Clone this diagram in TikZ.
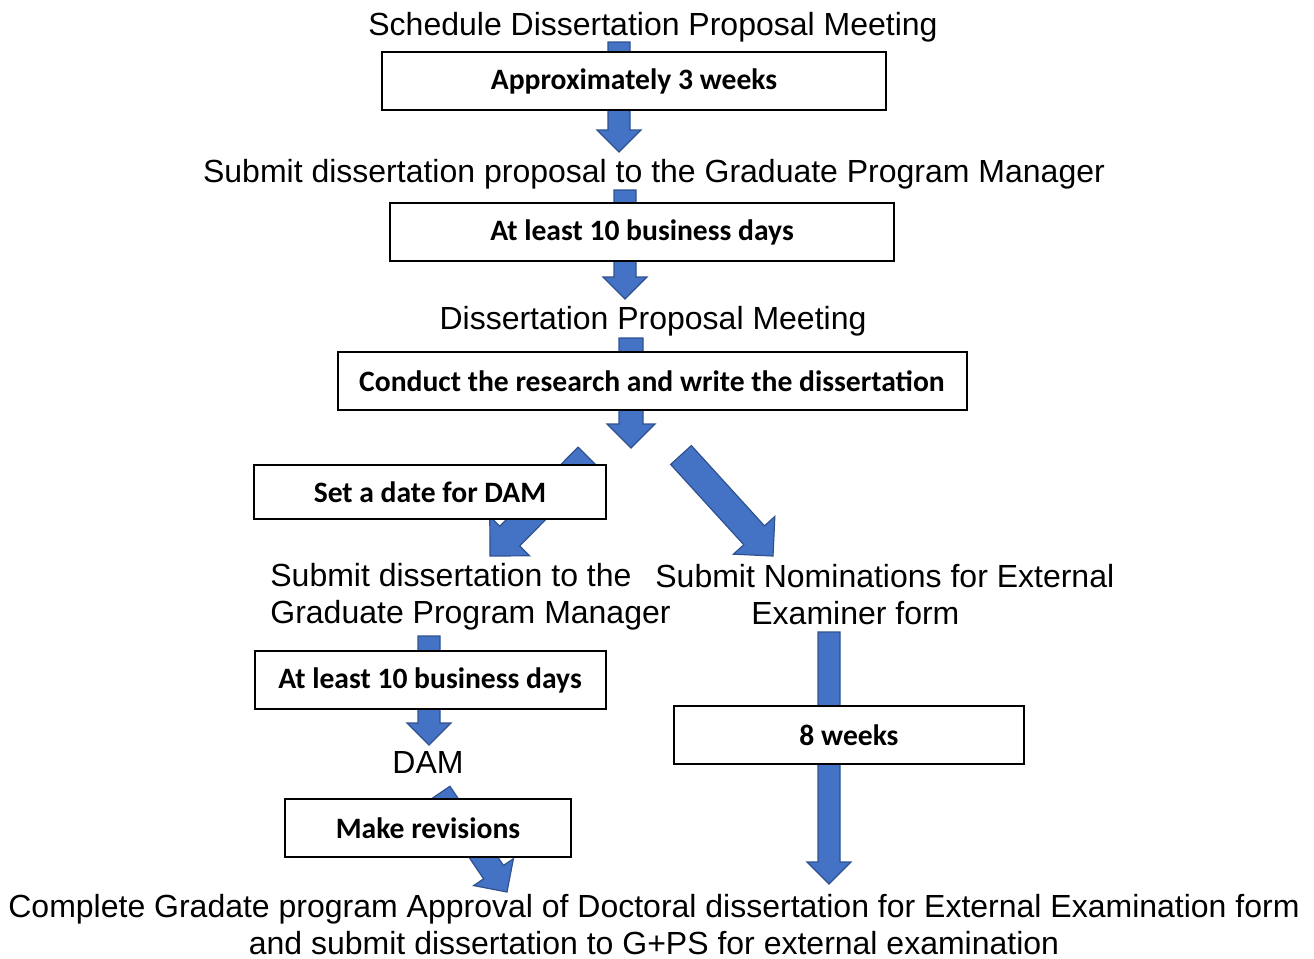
\documentclass[tikz,border=0pt]{standalone}
\usepackage{fontspec}
\setmainfont{Liberation Sans}
\newfontfamily\boxfont{Carlito}
\usepackage{tikz}
\usetikzlibrary{positioning,calc}
\definecolor{arrowblue}{HTML}{4472C4}
\definecolor{arrowedge}{HTML}{2F528F}
\tikzstyle{blockarrow} = [fill=arrowblue,draw=arrowedge,line width=0.6pt,line join=miter]
\newcommand{\blockarrow}[3][5.5pt]{%
  \coordinate (#2h) at ($(#3)!{2*#1}!(#2)$);
  \path[blockarrow] ($(#2)!#1!90:(#3)$) -- ($(#2h)!#1!90:(#3)$) -- ($(#2h)!{2*#1}!90:(#3)$) -- (#3)
    -- ($(#2h)!{2*#1}!-90:(#3)$) -- ($(#2h)!#1!-90:(#3)$) -- ($(#2)!#1!-90:(#3)$) -- cycle;}

\begin{document}
\begin{tikzpicture}[x=0.5pt,y=-0.5pt,
            txt/.style = {inner sep=0pt, font=\fontsize{16}{18.5}\selectfont},
            box/.style = {draw, line width=1pt, fill=white, minimum height=29pt,
              inner sep=0pt, font=\boxfont\bfseries\fontsize{14.8}{16}\selectfont}]
            \useasboundingbox (0,0) rectangle (1314,959);
            \node[txt] (sched) at (653,27) {Schedule Dissertation Proposal Meeting};
            \node[txt] (subprop) at (654,174) {Submit dissertation proposal to the Graduate Program Manager};
            \node[txt] (propmeet) at (653,321) {Dissertation Proposal Meeting};
            \node[txt, align=left, anchor=west] (subdiss) at (270,597) {Submit dissertation to the\\Graduate Program Manager};
            \node[txt, align=left, anchor=west] (subnom) at (655,595) {Submit Nominations for External\\\hspace*{48pt}Examiner form};
            \node[txt] (dam) at (428,762) {DAM};
            \node[txt, align=center] (complete) at (654,925) {Complete Gradate program Approval of Doctoral dissertation for External Examination form\\and submit dissertation to G+PS for external examination};
            \coordinate (a1s) at (619,42);  \coordinate (a1e) at (619,152);
            \coordinate (a2s) at (625,190); \coordinate (a2e) at (625,299);
            \coordinate (a3s) at (631,338); \coordinate (a3e) at (631,448);
            \coordinate (dls) at (588,457); \coordinate (dle) at (490,556);
            \coordinate (drs) at (681,455); \coordinate (dre) at (773,556);
            \coordinate (a4s) at (429,636); \coordinate (a4e) at (429,745);
            \coordinate (a5s) at (440,793); \coordinate (a5e) at (507,892);
            \coordinate (a6s) at (829,632); \coordinate (a6e) at (829,884);
            \blockarrow{a1s}{a1e}
            \blockarrow{a2s}{a2e}
            \blockarrow[6pt]{a3s}{a3e}
            \blockarrow[7pt]{dls}{dle}
            \blockarrow[7pt]{drs}{dre}
            \blockarrow{a4s}{a4e}
            \blockarrow[6pt]{a5s}{a5e}
            \blockarrow{a6s}{a6e}
            \node[box, minimum width=252pt] (weeks3) at (634,81) {Approximately 3 weeks};
            \node[box, minimum width=252pt] (days10a) at (642,232) {At least 10 business days};
            \node[box, minimum width=314.5pt] (research) at (652,381) {Conduct the research and write the dissertation};
            \node[box, minimum width=176pt, minimum height=27pt] (setdate) at (430,492) {Set a date for DAM};
            \node[box, minimum width=175.5pt] (days10b) at (430,680) {At least 10 business days};
            \node[box, minimum width=175pt] (weeks8) at (849,735) {8 weeks};
            \node[box, minimum width=143pt] (revise) at (428,828) {Make revisions};
\end{tikzpicture}
\end{document}
